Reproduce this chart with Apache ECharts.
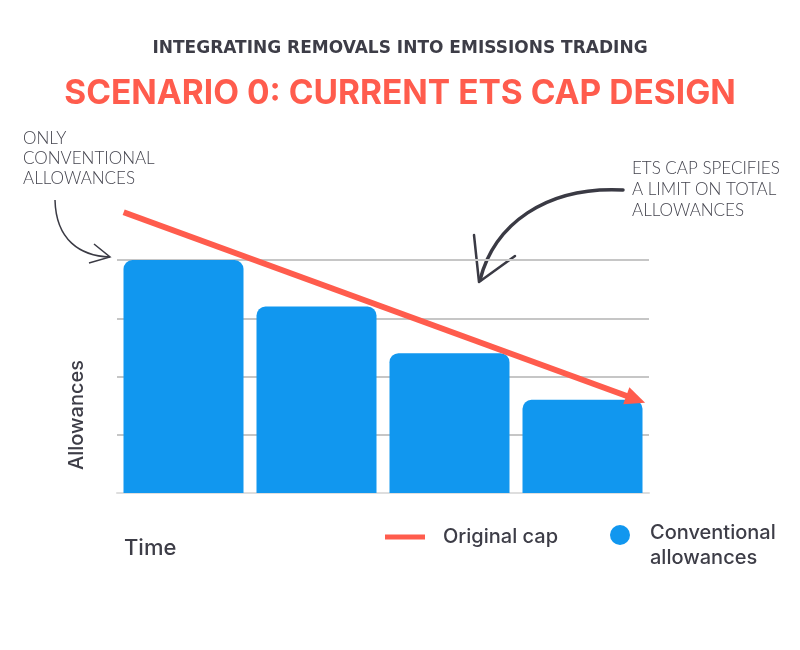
<!DOCTYPE html>
<html lang="en">
<head>
    <meta charset="UTF-8">
    <title>Scenario 0: current ETS cap design</title>
    <script type="text/javascript" src="https://cdn.jsdelivr.net/npm/echarts@6/dist/echarts.min.js"></script>
</head>
<body style="margin:0;background:#fff;">
    <div id="charts" style="width:800px;height:650px;"></div>
</body>
<script type="text/javascript">
    // data
    var periods = ['P1', 'P2', 'P3', 'P4'];
    var conventional = [4, 3.2, 2.4, 1.6];
    var capX = [0.05, 3.9];
    var capY = [4.82, 1.61];

    var RED = '#FF5C4D';
    var BLUE = '#1197EF';
    var INK = '#3D3D47';
    var FONT = 'Inter';

    var myChart = echarts.init(document.getElementById('charts'));

    // line points: nothing at the start, an arrow head at the end
    var capData = capX.map(function (x, i) {
        if (i === capX.length - 1) {
            return { value: [x, capY[i]], symbol: 'triangle', symbolSize: [18, 20], symbolRotate: -110 };
        }
        return { value: [x, capY[i]], symbol: 'none' };
    });

    var option = {
        backgroundColor: '#fff',
        animation: false,
        title: [{
            text: 'INTEGRATING REMOVALS INTO EMISSIONS TRADING',
            left: 'center',
            top: 35,
            textStyle: { fontFamily: 'DejaVu Sans', fontSize: 17, fontWeight: 'bold', color: INK }
        }, {
            text: 'SCENARIO 0: CURRENT ETS CAP DESIGN',
            left: 'center',
            top: 72,
            textStyle: { fontFamily: FONT, fontSize: 33.5, fontWeight: 'bold', color: RED }
        }],
        legend: [{
            left: 380,
            top: 522,
            itemWidth: 40,
            itemHeight: 5,
            icon: 'rect',
            data: ['Original cap'],
            textStyle: { fontFamily: FONT, fontSize: 20, fontWeight: 500, color: INK, padding: [0, 0, 0, 13] }
        }, {
            left: 605,
            top: 500,
            itemWidth: 20,
            itemHeight: 20,
            icon: 'circle',
            data: ['Conventional allowances'],
            // empty first row pushes the two text rows below the dot
            formatter: function () { return '{gap| }\n{t|Conventional}\n{t|allowances}'; },
            textStyle: {
                fontFamily: FONT, fontSize: 20, fontWeight: 500, color: INK, padding: [0, 0, 0, 15],
                rich: {
                    gap: { fontSize: 10, lineHeight: 21 },
                    t: { fontFamily: FONT, fontSize: 20, fontWeight: 500, color: INK, lineHeight: 25 }
                }
            }
        }],
        grid: { left: 117, right: 151, top: 260, bottom: 157 },
        xAxis: [{
            type: 'category',
            data: periods,
            name: 'Time',
            nameLocation: 'start',
            nameGap: -7,
            nameTextStyle: { fontFamily: FONT, fontSize: 22, fontWeight: 500, color: INK, align: 'left', verticalAlign: 'top', padding: [44, 0, 0, 0] },
            axisLine: { lineStyle: { color: '#DEDEDE', width: 2 } },
            axisTick: { show: false },
            axisLabel: { show: false }
        }, {
            type: 'value',
            min: 0,
            max: 4,
            show: false
        }],
        yAxis: {
            type: 'value',
            min: 0,
            max: 4,
            interval: 1,
            name: 'Allowances',
            nameLocation: 'start',
            nameRotate: 90,
            nameGap: -23,
            nameTextStyle: { fontFamily: FONT, fontSize: 20, fontWeight: 500, color: INK, align: 'left', verticalAlign: 'bottom', padding: [0, 0, 30, 0] },
            axisLine: { show: false },
            axisTick: { show: false },
            axisLabel: { show: false },
            splitLine: { lineStyle: { color: '#C6C6C6', width: 2 } }
        },
        series: [{
            name: 'Conventional allowances',
            type: 'bar',
            data: conventional,
            barWidth: 120,
            itemStyle: { color: BLUE, borderRadius: [9, 9, 0, 0] },
            z: 3
        }, {
            name: 'Original cap',
            type: 'line',
            xAxisIndex: 1,
            clip: false,
            showSymbol: true,
            data: capData,
            itemStyle: { color: RED },
            lineStyle: { color: RED, width: 6 },
            z: 5
        }],
        graphic: [{
            type: 'text',
            left: 23,
            top: 129,
            style: { text: 'ONLY\nCONVENTIONAL\nALLOWANCES', font: '300 17px Lato', fill: '#44444E', lineHeight: 20 }
        }, {
            type: 'text',
            left: 632,
            top: 158,
            style: { text: 'ETS CAP SPECIFIES\nA LIMIT ON TOTAL\nALLOWANCES', font: '300 17px Lato', fill: '#44444E', lineHeight: 21 }
        }, {
            type: 'bezierCurve',
            shape: { x1: 55, y1: 200, cpx1: 56, cpy1: 240, cpx2: 80, cpy2: 256, x2: 110, y2: 257 },
            style: { stroke: '#3A3A44', lineWidth: 1.5, fill: null }
        }, {
            type: 'polyline',
            shape: { points: [[94, 244], [110, 257], [89, 263]] },
            style: { stroke: '#3A3A44', lineWidth: 1.5, fill: null }
        }, {
            type: 'bezierCurve',
            shape: { x1: 623, y1: 190, cpx1: 545, cpy1: 186, cpx2: 494, cpy2: 225, x2: 480, y2: 280 },
            style: { stroke: '#3A3A44', lineWidth: 3.5, lineCap: 'round', fill: null }
        }, {
            type: 'polyline',
            shape: { points: [[474, 235], [479, 282], [515, 256]] },
            style: { stroke: '#3A3A44', lineWidth: 2.5, lineJoin: 'round', lineCap: 'round', fill: null }
        }]
    };

    myChart.setOption(option);
</script>
</html>
